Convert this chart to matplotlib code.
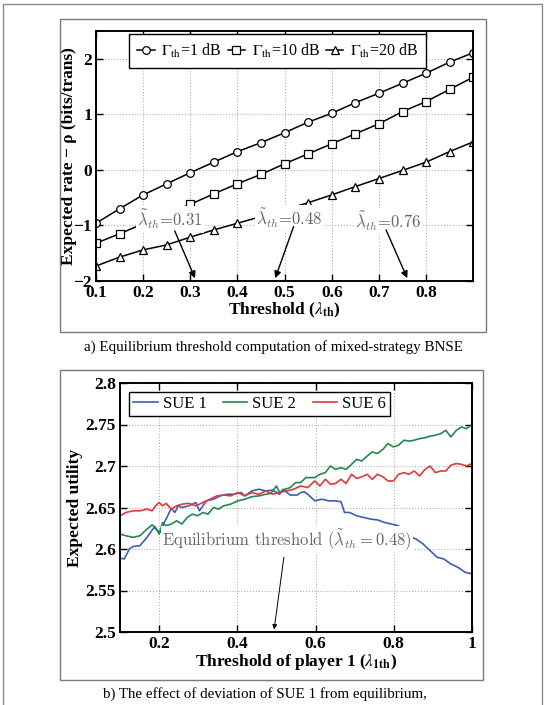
import numpy as np
import matplotlib
matplotlib.use("Agg")
import matplotlib.pyplot as plt
from matplotlib.patches import Rectangle

plt.rcParams['font.family'] = ['Liberation Serif', 'DejaVu Serif']
plt.rcParams['mathtext.fontset'] = 'stix'

# ---- panel a data: expected rate - rho vs threshold ----
thr = [0.10, 0.15, 0.20, 0.25, 0.30, 0.35, 0.40, 0.45, 0.50,
       0.55, 0.60, 0.65, 0.70, 0.75, 0.80, 0.85, 0.90]
rate_1db = [-0.96, -0.70, -0.45, -0.25, -0.05, 0.14, 0.33, 0.49, 0.67,
            0.86, 1.02, 1.21, 1.38, 1.56, 1.74, 1.94, 2.11]
rate_10db = [-1.32, -1.15, -0.97, -0.79, -0.62, -0.43, -0.25, -0.08, 0.11,
             0.29, 0.47, 0.65, 0.83, 1.05, 1.23, 1.45, 1.67]
rate_20db = [-1.73, -1.57, -1.44, -1.35, -1.21, -1.08, -0.96, -0.84, -0.72,
             -0.59, -0.45, -0.30, -0.155, -0.01, 0.14, 0.33, 0.505]
eq_thr = [0.31, 0.48, 0.76]

# ---- panel b data: expected utility vs threshold of player 1 ----
x_sue1 = [0.100, 0.111, 0.124, 0.133, 0.151, 0.169, 0.187, 0.196, 0.205, 0.213,
          0.222, 0.231, 0.240, 0.249, 0.258, 0.276, 0.294, 0.303, 0.312, 0.321,
          0.339, 0.356, 0.374, 0.392, 0.410, 0.419, 0.437, 0.455, 0.473, 0.490,
          0.508, 0.517, 0.535, 0.553, 0.562, 0.571, 0.580, 0.598, 0.616, 0.634,
          0.651, 0.665, 0.674, 0.687, 0.705, 0.723, 0.741, 0.759, 0.776, 0.794,
          0.812, 0.835, 0.857, 0.875, 0.893, 0.911, 0.928, 0.946, 0.964, 0.982, 1.000]
sue1 = [2.589, 2.588, 2.600, 2.603, 2.604, 2.614, 2.626, 2.622, 2.620, 2.632,
        2.640, 2.649, 2.644, 2.652, 2.650, 2.652, 2.656, 2.646, 2.652, 2.658,
        2.660, 2.664, 2.666, 2.666, 2.668, 2.664, 2.670, 2.672, 2.670, 2.671,
        2.666, 2.672, 2.665, 2.665, 2.668, 2.669, 2.666, 2.658, 2.660, 2.658,
        2.658, 2.657, 2.644, 2.644, 2.640, 2.638, 2.636, 2.635, 2.632, 2.630,
        2.628, 2.616, 2.612, 2.606, 2.598, 2.590, 2.588, 2.582, 2.578, 2.572, 2.570]

x_sue2 = [0.100, 0.115, 0.133, 0.151, 0.169, 0.182, 0.191, 0.200, 0.209, 0.218,
          0.231, 0.245, 0.258, 0.272, 0.285, 0.298, 0.312, 0.325, 0.339, 0.352,
          0.365, 0.383, 0.401, 0.419, 0.437, 0.455, 0.473, 0.486, 0.500, 0.508,
          0.522, 0.535, 0.549, 0.562, 0.575, 0.598, 0.611, 0.625, 0.638, 0.651,
          0.665, 0.678, 0.692, 0.705, 0.718, 0.732, 0.745, 0.758, 0.772, 0.785,
          0.799, 0.812, 0.826, 0.839, 0.852, 0.866, 0.880, 0.893, 0.906, 0.920,
          0.933, 0.946, 0.960, 0.973, 0.986, 1.000]
sue2 = [2.618, 2.616, 2.614, 2.616, 2.624, 2.629, 2.626, 2.618, 2.632, 2.628,
        2.630, 2.634, 2.630, 2.638, 2.642, 2.640, 2.644, 2.642, 2.650, 2.648,
        2.652, 2.654, 2.658, 2.660, 2.663, 2.664, 2.666, 2.667, 2.676, 2.668,
        2.672, 2.674, 2.680, 2.680, 2.686, 2.686, 2.690, 2.692, 2.700, 2.696,
        2.698, 2.696, 2.702, 2.708, 2.706, 2.712, 2.717, 2.715, 2.720, 2.727,
        2.723, 2.725, 2.731, 2.730, 2.731, 2.733, 2.734, 2.736, 2.737, 2.739,
        2.743, 2.735, 2.743, 2.747, 2.745, 2.750]

x_sue6 = [0.100, 0.115, 0.133, 0.151, 0.169, 0.182, 0.191, 0.200, 0.209, 0.218,
          0.231, 0.245, 0.258, 0.276, 0.294, 0.312, 0.330, 0.348, 0.365, 0.383,
          0.401, 0.419, 0.437, 0.455, 0.473, 0.490, 0.508, 0.526, 0.544, 0.562,
          0.580, 0.598, 0.611, 0.625, 0.638, 0.651, 0.665, 0.678, 0.692, 0.705,
          0.718, 0.732, 0.745, 0.758, 0.772, 0.785, 0.799, 0.812, 0.826, 0.839,
          0.852, 0.866, 0.880, 0.893, 0.906, 0.920, 0.933, 0.946, 0.960, 0.973,
          0.986, 1.000]
sue6 = [2.640, 2.644, 2.646, 2.646, 2.648, 2.646, 2.652, 2.656, 2.652, 2.655,
        2.648, 2.652, 2.654, 2.655, 2.652, 2.656, 2.660, 2.664, 2.665, 2.664,
        2.668, 2.664, 2.668, 2.666, 2.670, 2.666, 2.668, 2.670, 2.672, 2.676,
        2.674, 2.682, 2.676, 2.684, 2.678, 2.679, 2.684, 2.679, 2.690, 2.685,
        2.687, 2.690, 2.684, 2.690, 2.687, 2.682, 2.682, 2.690, 2.692, 2.690,
        2.694, 2.688, 2.696, 2.700, 2.692, 2.694, 2.694, 2.701, 2.703, 2.702,
        2.700, 2.703]

W, H = 549, 705
fig = plt.figure(figsize=(W / 100, H / 100), dpi=100)


def px_rect(x0, y0, x1, y1, color, lw):
    # rectangle given in image pixels (top-left origin)
    fig.add_artist(Rectangle((x0 / W, 1 - y1 / H), (x1 - x0) / W, (y1 - y0) / H,
                             transform=fig.transFigure, fill=False,
                             edgecolor=color, linewidth=lw))


px_rect(3, 4, 542, 720, '#8a8a8a', 1.0)
px_rect(60, 19, 486, 332, '#7a7a7a', 1.0)
px_rect(60, 370, 483, 680, '#7a7a7a', 1.0)


def style_axes(ax):
    ax.tick_params(direction='in', top=True, right=True, length=5, width=1,
                   labelsize=12.5, pad=3)
    for lab in ax.get_xticklabels() + ax.get_yticklabels():
        lab.set_fontweight('bold')
    for s in ax.spines.values():
        s.set_linewidth(1.4)
    ax.grid(True, linestyle=':', color='#b0b0b0', linewidth=0.8)


label_kw = dict(fontsize=12.5, fontweight='bold')
note_kw = dict(color='#666666', math_fontfamily='cm', family='cmr10',
               bbox=dict(facecolor='white', edgecolor='none', pad=1), zorder=5)

# ---- panel a ----
ax1 = fig.add_axes([96 / W, 1 - 281 / H, (473.3 - 96) / W, (281 - 31) / H])
mk = dict(color='black', linewidth=1.1, markersize=5.5, markerfacecolor='white',
          markeredgewidth=0.9)
ax1.plot(thr, rate_1db, marker='o', label=r'$\Gamma_{\rm th}$=1 dB', **mk)
ax1.plot(thr, rate_10db, marker='s', label=r'$\Gamma_{\rm th}$=10 dB', **mk)
ax1.plot(thr, rate_20db, marker='^', label=r'$\Gamma_{\rm th}$=20 dB', **mk)
ax1.set_xlim(0.1, 0.9)
ax1.set_ylim(-2, 2.5)
ax1.set_xticks([0.1, 0.2, 0.3, 0.4, 0.5, 0.6, 0.7, 0.8])
ax1.set_yticks([-2, -1, 0, 1, 2])
style_axes(ax1)
ax1.set_xlabel(r'Threshold ($\lambda_{\mathbf{th}}$)', labelpad=0, **label_kw)
ax1.set_ylabel('Expected rate − ρ (bits/trans)', **label_kw)
ax1.yaxis.set_label_coords(-0.05, 0.5)
leg1 = ax1.legend(loc='upper left', bbox_to_anchor=(129.3 / W, 1 - 34 / H),
                  bbox_transform=fig.transFigure, ncol=3, fontsize=11.5,
                  handlelength=1.1, handletextpad=0.4, columnspacing=0.4,
                  borderaxespad=0, borderpad=0.5, fancybox=False,
                  framealpha=1, edgecolor='black')
leg1.get_frame().set_linewidth(1.0)

text_pos = [(0.187, -0.89), (0.44, -0.87), (0.65, -0.92)]
arrow_from = [(0.267, -1.10), (0.519, -1.02), (0.715, -1.08)]
for lam, (tx, ty), (ax0, ay0) in zip(eq_thr, text_pos, arrow_from):
    ax1.text(tx, ty, r'$\tilde{\lambda}_{th}$=%.2f' % lam, ha='left',
             va='center', fontsize=12, **note_kw)
    ax1.annotate('', xy=(lam, -1.95), xytext=(ax0, ay0), zorder=6,
                 arrowprops=dict(arrowstyle='-|>', color='black', lw=1.0,
                                 mutation_scale=10, shrinkA=0, shrinkB=0))

fig.text(273.5 / W, 1 - 347 / H,
         'a) Equilibrium threshold computation of mixed-strategy BNSE',
         ha='center', va='center', fontsize=10.8)

# ---- panel b ----
ax2 = fig.add_axes([120 / W, 1 - 632 / H, (472 - 120) / W, (632 - 383) / H])
ax2.plot(x_sue1, sue1, color='#3f5fb5', linewidth=1.2, label='SUE 1')
ax2.plot(x_sue2, sue2, color='#23884f', linewidth=1.2, label='SUE 2')
ax2.plot(x_sue6, sue6, color='#e0393b', linewidth=1.2, label='SUE 6')
ax2.set_xlim(0.1, 1.0)
ax2.set_ylim(2.5, 2.8)
ax2.set_xticks([0.2, 0.4, 0.6, 0.8, 1.0])
ax2.set_xticklabels(['0.2', '0.4', '0.6', '0.8', '1'])
ax2.set_yticks([2.5, 2.55, 2.6, 2.65, 2.7, 2.75, 2.8])
ax2.set_yticklabels(['2.5', '2.55', '2.6', '2.65', '2.7', '2.75', '2.8'])
style_axes(ax2)
ax2.set_xlabel(r'Threshold of player 1 ($\lambda_{\mathbf{1th}}$)', labelpad=0,
               **label_kw)
ax2.set_ylabel('Expected utility', **label_kw)
ax2.yaxis.set_label_coords(-0.105, 0.5)
leg2 = ax2.legend(loc='upper left', bbox_to_anchor=(129.3 / W, 1 - 392 / H),
                  bbox_transform=fig.transFigure, ncol=3, fontsize=12,
                  handlelength=1.45, handletextpad=0.3, columnspacing=1.0,
                  borderaxespad=0, borderpad=0.25, fancybox=False,
                  framealpha=1, edgecolor='black')
leg2.get_frame().set_linewidth(1.0)

ax2.text(0.207, 2.611, r'Equilibrium threshold ($\tilde{\lambda}_{th} = 0.48$)',
         ha='left', va='center', fontsize=12, **note_kw)
ax2.annotate('', xy=(0.494, 2.503), xytext=(0.519, 2.59), zorder=6,
             arrowprops=dict(arrowstyle='-|>', color='black', lw=0.7,
                             mutation_scale=7, shrinkA=0, shrinkB=0))

fig.text(265 / W, 1 - 694 / H,
         'b) The effect of deviation of SUE 1 from equilibrium,',
         ha='center', va='center', fontsize=10.8)

fig.savefig('out.png', dpi=100)
